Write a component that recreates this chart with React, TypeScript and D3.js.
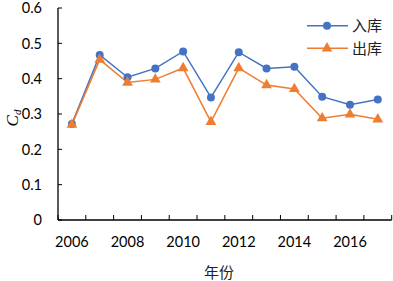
import React from "react";
import * as d3 from "d3";

const years = ["2006","2007","2008","2009","2010","2011","2012","2013","2014","2015","2016","2017"];
const inbound = [0.272,0.467,0.404,0.429,0.477,0.347,0.475,0.429,0.434,0.349,0.326,0.341];
const outbound = [0.270,0.454,0.389,0.398,0.430,0.278,0.430,0.382,0.371,0.288,0.299,0.285];
const yTicks = [0, 0.1, 0.2, 0.3, 0.4, 0.5, 0.6];
const xLabelYears = ["2006","2008","2010","2012","2014","2016"];
const seriesNames = ["入库", "出库"];

const W = 393, H = 281;
const left = 58, right = 391.7, top = 8, bottom = 220;
const BLUE = "#4472C4", ORANGE = "#ED7D31";
const numFont = "Lato, 'Open Sans', sans-serif";
const cjkFont = "'Noto Sans CJK SC', sans-serif";

export default function App() {
  const x = d3.scaleBand<string>().domain(years).range([left, right]);
  const y = d3.scaleLinear().domain([0, 0.6]).range([bottom, top]);
  const cx = (yr: string) => (x(yr) as number) + x.bandwidth() / 2;
  const line = d3.line<number>().x((_, i) => cx(years[i])).y(d => y(d));
  const tri = d3.symbol().type(d3.symbolTriangle).size(50);
  const triPath = tri() as string;
  const tickXs = years.map(yr => x(yr) as number).concat([right]);

  return (
    <svg width={W} height={H} style={{ position: "absolute", left: 0, top: 0, background: "#fff" }}>
      {/* axes */}
      <line x1={left} x2={left} y1={top} y2={bottom} stroke="#000" strokeWidth={1.3} />
      <line x1={left} x2={right} y1={bottom} y2={bottom} stroke="#000" strokeWidth={1.3} />
      {yTicks.map(t => (
        <g key={t}>
          <line x1={left} x2={left + 4} y1={y(t)} y2={y(t)} stroke="#000" strokeWidth={1} />
          <text x={42} y={y(t)} dy="0.36em" textAnchor="end" fontFamily={numFont} fontSize={14.5} fill="#000">{t === 0 ? "0" : t.toFixed(1)}</text>
        </g>
      ))}
      {tickXs.map((tx, i) => (
        <line key={i} x1={tx} x2={tx} y1={bottom} y2={bottom - 5} stroke="#000" strokeWidth={1} />
      ))}
      {xLabelYears.map(yr => (
        <text key={yr} x={cx(yr)} y={247} textAnchor="middle" fontFamily={numFont} fontSize={14.5} fill="#000">{yr}</text>
      ))}
      {/* axis titles */}
      <text transform="translate(18,118) rotate(-90)" textAnchor="middle" fontFamily="'Liberation Serif', serif" fontStyle="italic" fontSize={17} fill="#000">
        C<tspan fontSize={11} dy={3}>d</tspan>
      </text>
      <text x={219} y={278} textAnchor="middle" fontFamily={cjkFont} fontSize={15} fill="#222">年份</text>
      {/* series */}
      <path d={line(inbound) as string} fill="none" stroke={BLUE} strokeWidth={1.5} />
      <path d={line(outbound) as string} fill="none" stroke={ORANGE} strokeWidth={1.5} />
      {inbound.map((v, i) => (
        <circle key={"b" + i} cx={cx(years[i])} cy={y(v)} r={4} fill={BLUE} />
      ))}
      {outbound.map((v, i) => (
        <path key={"o" + i} d={triPath} transform={`translate(${cx(years[i])},${y(v)})`} fill={ORANGE} />
      ))}
      {/* legend */}
      <g>
        <line x1={307} x2={348} y1={25.7} y2={25.7} stroke={BLUE} strokeWidth={1.5} />
        <circle cx={327} cy={25.7} r={4} fill={BLUE} />
        <text x={352} y={25.7} dy="0.36em" fontFamily={cjkFont} fontSize={15} fill="#222">{seriesNames[0]}</text>
        <line x1={307} x2={348} y1={48.3} y2={48.3} stroke={ORANGE} strokeWidth={1.5} />
        <path d={triPath} transform="translate(327,48.3)" fill={ORANGE} />
        <text x={352} y={48.3} dy="0.36em" fontFamily={cjkFont} fontSize={15} fill="#222">{seriesNames[1]}</text>
      </g>
    </svg>
  );
}
